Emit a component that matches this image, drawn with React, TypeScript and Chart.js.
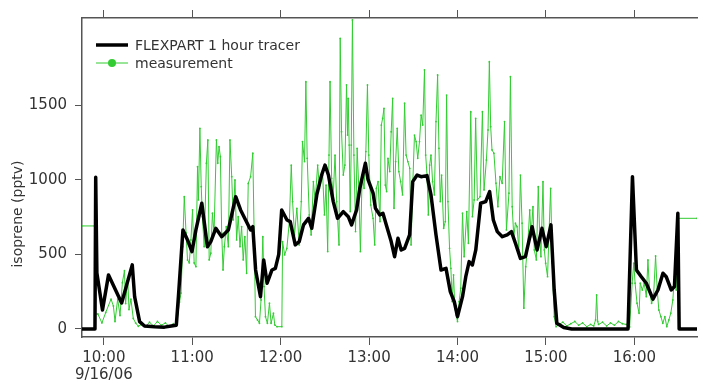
import React, { useEffect, useRef } from 'react';
import { Chart, registerables } from 'chart.js';

Chart.register(...registerables);

// Time in minutes after midnight, values in pptv
const flexTimes = [
  585.2, 594, 594.5, 595.3, 599.1, 603.2, 612.1, 619.3, 620.9, 624.3, 627.6, 634.4, 641.1, 645.8, 649.2,
  650.8, 653.7, 656.8, 659.8, 662.5, 666.5, 670.3, 672.6, 676, 680, 684.5, 689.5, 692.8, 696.2, 699.6,
  701.1, 703, 706.3, 708.5, 710.8, 714.1, 716.4, 718.7, 720.7, 724.3, 726.5, 729.9, 732.6, 735.5, 738.9,
  741.1, 744.5, 747.8, 750.1, 752.4, 755.7, 758.6, 762.5, 765.9, 768.1, 771.5, 773.7, 777.5, 779.3, 782.7,
  784.3, 787.2, 789.4, 791.7, 795, 797.3, 799.6, 801.8, 804.1, 807.5, 809.6, 812.6, 815.3, 819.3, 822,
  825.4, 828.8, 832.2, 835.1, 837.8, 840, 843.4, 845.6, 847.9, 850.1, 852.4, 855.7, 859.1, 861.8, 864.3,
  867, 870.4, 873.7, 876.6, 879.3, 882.7, 886.1, 890.6, 894, 897.3, 900.2, 903.4, 905.6, 907.4, 912.1,
  917.5, 955.7, 958.7, 961.4, 964.7, 968.1, 972.6, 976, 979.4, 981.6, 985, 987.2, 989.5, 990.4, 1002.5,
];
const flexValues = [
  0, 0, 1016, 375, 127, 362, 174, 429, 216, 49, 20, 15, 12, 20, 25,
  241, 663, 596, 518, 663, 842, 551, 585, 674, 618, 663, 886, 797, 730, 663,
  685, 395, 216, 462, 306, 395, 406, 500, 797, 730, 719, 563, 585, 697, 741,
  674, 898, 1031, 1098, 1031, 853, 741, 786, 752, 697, 797, 942, 1110, 1000, 910,
  808, 764, 775, 697, 585, 484, 607, 529, 540, 630, 987, 1031, 1020, 1027, 898,
  630, 395, 406, 250, 183, 82, 216, 350, 451, 429, 529, 842, 853, 920, 730,
  652, 618, 630, 652, 574, 473, 484, 685, 529, 674, 551, 697, 261, 38, 10,
  0, 0, 1020, 395, 350, 306, 200, 261, 373, 350, 261, 284, 775, 0, 0,
];

const measTimes = [
  585.2, 593.7, 594.3, 596, 598.7, 601.3, 604.9, 606.5, 607.6, 609.4, 611, 612.6, 614, 614.8, 616.2,
  617.1, 618.4, 620, 621.6, 623.4, 625.6, 628.3, 631, 633.7, 636.4, 639.1, 641.8, 644.5, 647.2, 649.2,
  651.4, 652.4, 653.5, 654.6, 655.8, 656.8, 658, 659.1, 660.2, 661.3, 662.5, 663.6, 664.2, 665.2, 666.1,
  666.9, 668.1, 669.6, 670.6, 671.5, 672.6, 673.7, 674.8, 676.4, 677.3, 678.2, 679.1, 680, 680.9, 681.8,
  683.1, 684.5, 685.6, 686.8, 687.8, 689, 690.1, 691.2, 692.4, 693.5, 694.6, 695.7, 696.9, 698, 699.6,
  701.1, 702, 702.9, 704.3, 705.6, 706.7, 707.9, 708.7, 709.7, 711, 712.4, 713.5, 715.1, 716, 717.5,
  720.8, 721.3, 722.7, 724.2, 725.9, 727.2, 728.1, 729.4, 731, 732.6, 734, 734.8, 736.2, 737.1, 738,
  739.4, 740.7, 742.2, 743.4, 745.1, 746.3, 747.4, 748.5, 749.7, 750.8, 751.9, 752.8, 753.5, 754.6, 755.7,
  756.9, 758, 759.6, 760.4, 761.3, 762.5, 763.6, 764.7, 765.4, 765.8, 766.5, 767.2, 767.9, 768.7, 769.7,
  770.8, 771.9, 773.1, 774.1, 775.3, 776.6, 777.8, 778.9, 779.8, 781.1, 782.7, 783.8, 784.9, 786.1, 787.4,
  788.3, 789.2, 790.1, 791, 791.9, 792.8, 794, 795, 796, 796.9, 798, 799.1, 800.2, 801.4, 802.7,
  804.1, 805.1, 806.3, 807.6, 808.5, 809.7, 810.8, 811.9, 813, 814.2, 815.3, 816.4, 817.6, 818.4, 819.3,
  820.2, 821.1, 822, 823.1, 824.3, 825.4, 826.5, 827.4, 828.3, 829.2, 830.6, 831.7, 832.6, 833.5, 834.6,
  835.5, 836.4, 837.3, 838.2, 839.1, 840, 841.1, 842.2, 843.4, 844.5, 846.3, 847.4, 849, 850.1, 851.3,
  852.3, 853.5, 855.3, 856.9, 858, 859.6, 860.7, 861.6, 862.5, 863.4, 864.7, 866.1, 867.4, 868.8, 870.3,
  871.9, 873.2, 874.9, 875.9, 877.1, 878.2, 879.3, 880.4, 881.6, 882.7, 883.8, 885, 886.3, 887.7, 889,
  889.9, 891.2, 892.1, 893.5, 894.8, 895.8, 896.6, 898, 898.9, 899.8, 901.1, 902, 903.2, 904.3, 905.6,
  906.9, 908.8, 911.5, 914.2, 916.9, 919.6, 922.2, 924.9, 927.7, 930.3, 932.4, 933.7, 934.4, 935.1, 935.7,
  938.4, 941.2, 943.8, 946.5, 949.2, 951.9, 954.6, 956.8, 958.5, 959.6, 960.5, 961.8, 963.2, 964, 965.4,
  966.7, 968.1, 969.2, 970.3, 971.7, 973, 974.4, 975.5, 976.6, 978, 979.3, 980.7, 982, 983.4, 984.7,
  986.1, 987.2, 988.4, 989.5, 1002.5,
];
const measValues = [
  690, 690, 100, 100, 40, 110, 200, 154, 50, 200, 90, 310, 390, 170, 340,
  130, 200, 70, 40, 18, 30, 15, 45, 20, 50, 25, 40, 15, 35, 20,
  180, 240, 551, 886, 643, 462, 442, 596, 797, 442, 417, 1087, 864, 1344, 953,
  752, 551, 1110, 1266, 462, 507, 775, 641, 1266, 1110, 1221, 1154, 641, 395, 551,
  685, 551, 1266, 1020, 730, 998, 596, 752, 551, 685, 462, 618, 373, 975, 1020,
  1177, 641, 82, 60, 38, 194, 618, 284, 82, 38, 172, 38, 105, 27, 15,
  15, 585, 496, 540, 719, 1098, 853, 630, 808, 563, 853, 1255, 1121, 1656, 1143,
  764, 630, 987, 853, 1098, 942, 1009, 1031, 764, 964, 518, 1165, 1656, 1009, 898,
  1165, 853, 563, 1947, 1321, 1031, 1098, 1634, 1299, 1545, 1232, 786, 1232, 2070, 1165,
  652, 1210, 920, 518, 1031, 942, 1188, 1634, 1165, 831, 741, 563, 942, 987, 719,
  1366, 1411, 1478, 964, 920, 1143, 1054, 1321, 1545, 808, 1121, 1344, 1054, 987, 898,
  1512, 1165, 1121, 1076, 563, 987, 1299, 1255, 1143, 1255, 1433, 1366, 1735, 1165, 1031,
  764, 1098, 1165, 987, 898, 1389, 1701, 1210, 853, 1031, 674, 719, 1567, 853, 540,
  406, 183, 362, 139, 94, 49, 183, 273, 775, 484, 786, 574, 1455, 752, 864,
  1411, 864, 886, 1455, 931, 1132, 1333, 1790, 1355, 1199, 1177, 976, 819, 1020, 976,
  1389, 663, 909, 1690, 819, 618, 708, 685, 529, 1031, 708, 139, 417, 574, 797,
  618, 819, 529, 462, 953, 618, 484, 987, 529, 440, 350, 618, 942, 440, 82,
  15, 30, 45, 20, 35, 50, 25, 40, 15, 30, 20, 60, 228, 50, 30,
  45, 20, 40, 25, 50, 35, 30, 13, 306, 440, 306, 172, 105, 306, 261,
  306, 216, 462, 261, 172, 216, 489, 261, 127, 82, 38, 82, 15, 60, 105,
  194, 350, 261, 741, 741,
];

const hourTicks = [600, 660, 720, 780, 840, 900, 960];
const yTicks = [0, 500, 1000, 1500];
const dateLabel = '9/16/06';
const yTitle = 'isoprene (pptv)';
const flexLabel = 'FLEXPART 1 hour tracer';
const measLabel = 'measurement';

const X_MIN = 585.2;
const X_MAX = 1002.5;
const Y_MIN = -54;
const Y_MAX = 2083;

const FONT = '"DejaVu Sans", "Liberation Sans", sans-serif';
const TEXT = '#333333';
const FRAME = '#555555';
const GREEN = '#33cc33';

function fmtTime(v: number): string {
  const h = Math.floor(v / 60);
  const m = Math.round(v - h * 60);
  return `${h}:${String(m).padStart(2, '0')}`;
}

const overlayPlugin = {
  id: 'overlayPlugin',
  afterDraw(chart: any) {
    const ctx = chart.ctx as CanvasRenderingContext2D;
    const a = chart.chartArea;
    // y axis title
    ctx.save();
    ctx.translate(18, 214);
    ctx.rotate(-Math.PI / 2);
    ctx.font = `14px ${FONT}`;
    ctx.fillStyle = TEXT;
    ctx.textAlign = 'center';
    ctx.textBaseline = 'middle';
    ctx.fillText(yTitle, 0, 0);
    ctx.restore();

    // legend inside plot area
    const ds = chart.data.datasets;
    const x0 = a.left + 14;
    const x1 = a.left + 46;
    const tx = a.left + 53;
    const rows = [a.top + 27, a.top + 45];
    ctx.save();
    ctx.font = `14px ${FONT}`;
    ctx.fillStyle = TEXT;
    ctx.textAlign = 'left';
    ctx.textBaseline = 'middle';
    ds.forEach((d: any, i: number) => {
      const y = rows[i];
      ctx.beginPath();
      ctx.strokeStyle = d.borderColor;
      ctx.lineWidth = d.borderWidth;
      ctx.moveTo(x0, y);
      ctx.lineTo(x1, y);
      ctx.stroke();
      if (i === 1) {
        ctx.beginPath();
        ctx.fillStyle = d.borderColor;
        ctx.arc((x0 + x1) / 2, y, 4, 0, Math.PI * 2);
        ctx.fill();
        ctx.fillStyle = TEXT;
      }
      ctx.fillText(d.label, tx, y + 1);
    });
    ctx.restore();
  },
};

export default function App() {
  const ref = useRef<HTMLCanvasElement | null>(null);

  useEffect(() => {
    if (!ref.current) return;
    const flexData = flexTimes.map((t, i) => ({ x: t, y: flexValues[i] }));
    const measData = measTimes.map((t, i) => ({ x: t, y: measValues[i] }));

    const chart = new Chart(ref.current, {
      type: 'line',
      data: {
        datasets: [
          {
            label: flexLabel,
            data: flexData,
            borderColor: '#000000',
            borderWidth: 3.5,
            pointRadius: 0,
            tension: 0,
            borderJoinStyle: 'round',
          },
          {
            label: measLabel,
            data: measData,
            borderColor: GREEN,
            backgroundColor: GREEN,
            borderWidth: 1,
            pointRadius: 0.9,
            pointBorderWidth: 0,
            pointBackgroundColor: GREEN,
            tension: 0,
          },
        ],
      },
      options: {
        responsive: false,
        animation: false,
        devicePixelRatio: 1,
        layout: { padding: 0 },
        plugins: {
          legend: { display: false },
          tooltip: { enabled: false },
        },
        scales: {
          x: {
            type: 'linear',
            position: 'bottom',
            min: X_MIN,
            max: X_MAX,
            afterBuildTicks: (s: any) => {
              s.ticks = hourTicks.map((v) => ({ value: v }));
            },
            afterFit: (s: any) => {
              s.height = 49;
            },
            grid: {
              drawOnChartArea: false,
              drawTicks: true,
              tickLength: 8,
              tickWidth: 1,
              color: FRAME,
            },
            border: { display: true, color: FRAME, width: 1.5 },
            ticks: {
              autoSkip: false,
              maxRotation: 0,
              padding: 4,
              color: TEXT,
              font: { family: FONT, size: 15, lineHeight: 1.15 },
              callback: (v: any) => {
                const n = Number(v);
                return n === hourTicks[0] ? [fmtTime(n), dateLabel] : fmtTime(n);
              },
            },
          },
          xTop: {
            type: 'linear',
            position: 'top',
            min: X_MIN,
            max: X_MAX,
            afterBuildTicks: (s: any) => {
              s.ticks = hourTicks.map((v) => ({ value: v }));
            },
            afterFit: (s: any) => {
              s.height = 18;
            },
            grid: {
              drawOnChartArea: false,
              drawTicks: true,
              tickLength: 8,
              color: FRAME,
            },
            border: { display: true, color: FRAME, width: 1.5 },
            ticks: { display: false },
          },
          y: {
            type: 'linear',
            position: 'left',
            min: Y_MIN,
            max: Y_MAX,
            afterBuildTicks: (s: any) => {
              s.ticks = yTicks.map((v) => ({ value: v }));
            },
            afterFit: (s: any) => {
              s.width = 82;
            },
            grid: {
              drawOnChartArea: false,
              drawTicks: true,
              tickLength: 7,
              color: FRAME,
            },
            border: { display: true, color: FRAME, width: 1.5 },
            ticks: {
              padding: 8,
              color: TEXT,
              font: { family: FONT, size: 15 },
              callback: (v: any) => String(v),
            },
          },
        },
      },
      plugins: [overlayPlugin],
    } as any);

    return () => chart.destroy();
  }, []);

  return (
    <div style={{ position: 'fixed', left: 0, top: 0, width: 701, height: 386, background: '#ffffff' }}>
      <canvas ref={ref} width={701} height={386} style={{ display: 'block' }} />
    </div>
  );
}
